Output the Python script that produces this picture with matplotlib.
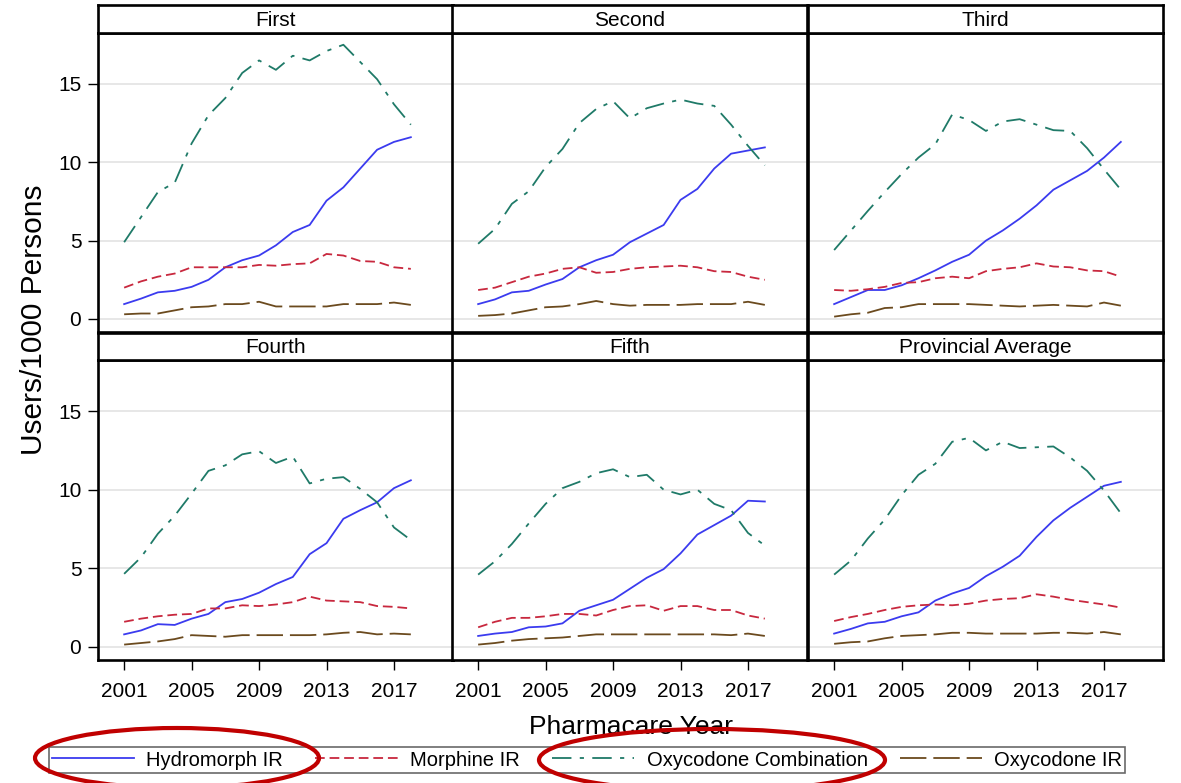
import matplotlib.pyplot as plt
from matplotlib.patches import Ellipse

plt.rcParams['font.family'] = ['Liberation Sans', 'DejaVu Sans']
plt.rcParams['lines.scale_dashes'] = False

# data (users per 1000 persons)
years = list(range(2001, 2019))
panels = ["First", "Second", "Third", "Fourth", "Fifth", "Provincial Average"]
series_names = ["Hydromorph IR", "Morphine IR", "Oxycodone Combination", "Oxycodone IR"]

hydromorph_ir = [
    [0.95, 1.3, 1.7, 1.8, 2.05, 2.5, 3.3, 3.75, 4.05, 4.7, 5.55, 6.0, 7.55, 8.4, 9.6, 10.8, 11.3, 11.6],
    [0.95, 1.25, 1.7, 1.8, 2.2, 2.55, 3.3, 3.75, 4.1, 4.9, 5.45, 6.0, 7.6, 8.3, 9.6, 10.55, 10.75, 10.95],
    [0.95, 1.4, 1.85, 1.85, 2.15, 2.6, 3.1, 3.65, 4.1, 5.0, 5.65, 6.4, 7.25, 8.25, 8.85, 9.45, 10.3, 11.3],
    [0.8, 1.05, 1.45, 1.4, 1.8, 2.1, 2.85, 3.05, 3.45, 4.0, 4.45, 5.9, 6.6, 8.15, 8.7, 9.2, 10.1, 10.6],
    [0.7, 0.85, 0.95, 1.25, 1.3, 1.5, 2.3, 2.65, 3.0, 3.7, 4.4, 4.95, 5.95, 7.15, 7.75, 8.35, 9.3, 9.25],
    [0.85, 1.15, 1.5, 1.6, 1.95, 2.2, 2.95, 3.4, 3.75, 4.5, 5.1, 5.8, 7.0, 8.05, 8.85, 9.55, 10.25, 10.5],
]
morphine_ir = [
    [2.0, 2.4, 2.7, 2.9, 3.3, 3.3, 3.3, 3.3, 3.45, 3.4, 3.5, 3.55, 4.15, 4.05, 3.7, 3.65, 3.3, 3.2],
    [1.85, 2.0, 2.35, 2.7, 2.9, 3.2, 3.3, 2.95, 3.0, 3.2, 3.3, 3.35, 3.4, 3.3, 3.05, 3.0, 2.7, 2.5],
    [1.85, 1.8, 1.9, 2.05, 2.3, 2.35, 2.6, 2.7, 2.6, 3.05, 3.2, 3.3, 3.55, 3.35, 3.3, 3.1, 3.05, 2.7],
    [1.6, 1.8, 1.95, 2.05, 2.1, 2.45, 2.45, 2.65, 2.6, 2.7, 2.85, 3.2, 2.95, 2.9, 2.85, 2.6, 2.55, 2.45],
    [1.25, 1.6, 1.85, 1.85, 1.95, 2.1, 2.1, 2.0, 2.35, 2.6, 2.65, 2.3, 2.6, 2.6, 2.35, 2.35, 2.0, 1.8],
    [1.65, 1.9, 2.1, 2.35, 2.55, 2.65, 2.7, 2.65, 2.75, 2.95, 3.05, 3.1, 3.35, 3.2, 3.0, 2.85, 2.7, 2.5],
]
oxycodone_comb = [
    [4.9, 6.5, 8.1, 8.7, 11.2, 13.0, 14.1, 15.7, 16.5, 15.9, 16.8, 16.5, 17.1, 17.5, 16.4, 15.3, 13.7, 12.4],
    [4.8, 5.75, 7.35, 8.15, 9.7, 10.85, 12.5, 13.4, 13.9, 12.8, 13.45, 13.75, 14.0, 13.75, 13.6, 12.4, 11.05, 9.8],
    [4.4, 5.65, 6.9, 8.1, 9.25, 10.3, 11.15, 13.05, 12.7, 12.0, 12.6, 12.75, 12.4, 12.05, 12.0, 10.9, 9.55, 8.25],
    [4.65, 5.7, 7.2, 8.35, 9.75, 11.2, 11.55, 12.25, 12.45, 11.7, 12.1, 10.4, 10.7, 10.8, 10.05, 9.2, 7.6, 6.8],
    [4.6, 5.45, 6.55, 7.85, 9.1, 10.1, 10.5, 11.05, 11.3, 10.8, 10.95, 10.0, 9.7, 10.0, 9.1, 8.7, 7.25, 6.45],
    [4.6, 5.5, 6.9, 8.1, 9.65, 10.95, 11.65, 13.05, 13.3, 12.5, 13.05, 12.65, 12.7, 12.75, 12.05, 11.2, 9.95, 8.5],
]
oxycodone_ir = [
    [0.3, 0.35, 0.35, 0.55, 0.75, 0.8, 0.95, 0.95, 1.1, 0.8, 0.8, 0.8, 0.8, 0.95, 0.95, 0.95, 1.05, 0.9],
    [0.2, 0.25, 0.35, 0.55, 0.75, 0.8, 0.95, 1.15, 0.95, 0.85, 0.9, 0.9, 0.9, 0.95, 0.95, 0.95, 1.1, 0.9],
    [0.15, 0.3, 0.4, 0.7, 0.75, 0.95, 0.95, 0.95, 0.95, 0.9, 0.85, 0.8, 0.85, 0.9, 0.85, 0.8, 1.05, 0.85],
    [0.15, 0.25, 0.35, 0.5, 0.75, 0.7, 0.65, 0.75, 0.75, 0.75, 0.75, 0.75, 0.8, 0.9, 0.95, 0.8, 0.85, 0.8],
    [0.15, 0.25, 0.4, 0.5, 0.55, 0.6, 0.7, 0.8, 0.8, 0.8, 0.8, 0.8, 0.8, 0.8, 0.8, 0.75, 0.85, 0.7],
    [0.2, 0.3, 0.35, 0.55, 0.7, 0.75, 0.8, 0.9, 0.9, 0.85, 0.85, 0.85, 0.85, 0.9, 0.9, 0.85, 0.95, 0.8],
]
x_ticks = [2001, 2005, 2009, 2013, 2017]
y_ticks = [0, 5, 10, 15]

all_series = [hydromorph_ir, morphine_ir, oxycodone_comb, oxycodone_ir]
colors = ["#3b3bef", "#c8283e", "#1f7a68", "#6b4a1e"]
dash_styles = [None, (0, (7, 3.5)), (0, (14, 6, 3, 6)), (0, (19, 5))]

W, H = 1181, 783
fig = plt.figure(figsize=(W / 100, H / 100), dpi=100)

col_left = [98, 452, 808]
col_w = 355
rows = [(5, 33, 332), (333, 360, 660)]  # strip top, plot top, plot bottom (pixels)
spine_w = 1.9

handles = []
for i, name in enumerate(panels):
    r, c = divmod(i, 3)
    s_top, p_top, p_bot = rows[r]
    left = col_left[c] / W
    ax = fig.add_axes([left, 1 - p_bot / H, col_w / W, (p_bot - p_top) / H])
    st = fig.add_axes([left, 1 - p_top / H, col_w / W, (p_top - s_top) / H])

    for k in range(4):
        ln, = ax.plot(years, all_series[k][i], color=colors[k], lw=1.3,
                      label=series_names[k])
        if dash_styles[k] is not None:
            ln.set_linestyle(dash_styles[k])
        if i == 0:
            handles.append(ln)

    ax.set_xlim(1999.45, 2020.5)
    ax.set_ylim(-0.83, 18.25)
    ax.set_yticks(y_ticks)
    ax.set_xticks(x_ticks)
    ax.grid(axis='y', color='#e0e0e0', lw=1.1)
    ax.set_axisbelow(True)
    ax.tick_params(direction='out', length=7, width=1, labelsize=15, pad=5)
    ax.tick_params(axis='x', pad=9)
    if c != 0:
        ax.tick_params(axis='y', left=False, labelleft=False)
    if r != 1:
        ax.tick_params(axis='x', bottom=False, labelbottom=False)
    for sp in ax.spines.values():
        sp.set_linewidth(spine_w)

    st.set_xticks([])
    st.set_yticks([])
    for sp in st.spines.values():
        sp.set_linewidth(spine_w)
    st.text(0.5, 0.45, name, ha='center', va='center', fontsize=15,
            transform=st.transAxes)

fig.text(34 / W, 1 - 320 / H, "Users/1000 Persons", rotation=90,
         ha='center', va='center', fontsize=21.5)
fig.text(631 / W, 1 - 727 / H, "Pharmacare Year", ha='center', va='center',
         fontsize=19)

leg = fig.legend(handles=handles, loc='center', ncol=4,
                 bbox_to_anchor=(587 / W, 1 - 760 / H), fontsize=14.5,
                 frameon=True, fancybox=False, edgecolor='#444444',
                 handlelength=4.1, columnspacing=1.6, handletextpad=0.6,
                 borderpad=0.15, borderaxespad=0)
leg.get_frame().set_linewidth(1.2)

# red annotation ellipses
for cx, cy, ew, eh in [(177, 758, 284, 60), (712, 760, 346, 62)]:
    fig.patches.append(Ellipse((cx / W, 1 - cy / H), ew / W, eh / H,
                               transform=fig.transFigure, fill=False,
                               edgecolor='#c00000', lw=3, zorder=10))

fig.savefig("out.png", dpi=100)
